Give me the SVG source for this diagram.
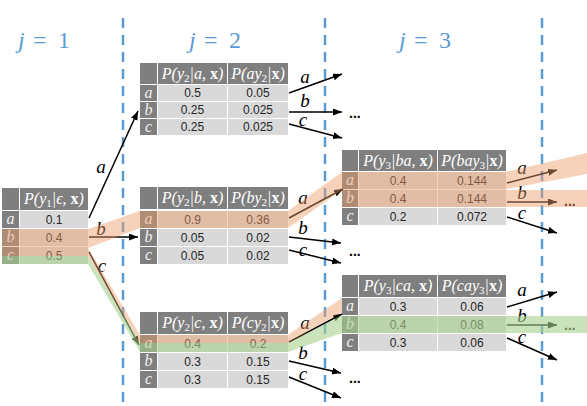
<svg xmlns="http://www.w3.org/2000/svg" width="587" height="406" viewBox="0 0 587 406">
<style>
.hd{fill:#7f7f7f}
.cl{fill:#d9d9d9}
.ht{font-family:"Liberation Serif",serif;font-style:italic;font-size:16px;fill:#ffffff;text-anchor:middle}
.ht .bx{font-style:normal;font-weight:bold}
.ht .sb{font-size:11px;font-style:normal}
.lt{font-family:"Liberation Serif",serif;font-style:italic;font-size:16px;fill:#f2f2f2;text-anchor:middle}
.vt{font-family:"Liberation Sans",Arial,sans-serif;font-size:12px;fill:#262626;text-anchor:middle}
.al{font-family:"Liberation Serif",serif;font-style:italic;font-size:19px;fill:#000000;text-anchor:middle}
.arr{stroke:#000000;stroke-width:1.5;fill:none;marker-end:url(#ah)}
.dots{font-family:"Liberation Sans",Arial,sans-serif;font-size:14px;font-weight:bold;fill:#000000}
.dl{stroke:#5b9bd5;stroke-width:2.5;stroke-dasharray:10 7}
.jt{font-family:"Liberation Serif",serif;font-size:24px;fill:#5b9bd5}
</style>
<defs>
<marker id="ah" markerWidth="10" markerHeight="8" refX="9" refY="3.5" orient="auto" markerUnits="userSpaceOnUse">
<path d="M0,0 L9,3.5 L0,7 z" fill="#000000"/>
</marker>
</defs>
<rect width="587" height="406" fill="#ffffff"/>

<g id="dividers">
<line class="dl" x1="123" y1="18" x2="123" y2="406"/>
<line class="dl" x1="325" y1="18" x2="325" y2="406"/>
<line class="dl" x1="542" y1="18" x2="542" y2="406"/>
</g>
<g id="steps">
<text class="jt" y="48"><tspan x="18" font-style="italic">j</tspan><tspan x="33">=</tspan><tspan x="58">1</tspan></text>
<text class="jt" y="48"><tspan x="189" font-style="italic">j</tspan><tspan x="204">=</tspan><tspan x="229">2</tspan></text>
<text class="jt" y="48"><tspan x="399" font-style="italic">j</tspan><tspan x="414">=</tspan><tspan x="439">3</tspan></text>
</g>

<!-- left table -->
<g id="n-eps">
<rect class="hd" x="2" y="188" width="17" height="22"/>
<rect class="hd" x="20" y="188" width="68" height="22"/>
<text class="ht" x="54" y="204">P(y<tspan class="sb" dy="3">1</tspan><tspan dy="-3">|ϵ, </tspan><tspan class="bx">x</tspan>)</text>
<rect class="hd" x="2" y="211" width="17" height="17"/><rect class="cl" x="20" y="211" width="68" height="17"/>
<rect class="hd" x="2" y="229" width="17" height="17"/><rect class="cl" x="20" y="229" width="68" height="17"/>
<rect class="hd" x="2" y="247" width="17" height="17"/><rect class="cl" x="20" y="247" width="68" height="17"/>
<text class="lt" x="10.5" y="224">a</text><text class="lt" x="10.5" y="242">b</text><text class="lt" x="10.5" y="260">c</text>
<text class="vt" x="54" y="224">0.1</text><text class="vt" x="54" y="242">0.4</text><text class="vt" x="54" y="260">0.5</text>
</g>

<!-- table a -->
<g id="n-a">
<rect class="hd" x="140" y="63" width="17" height="21"/>
<rect class="hd" x="158" y="63" width="69" height="21"/>
<rect class="hd" x="228" y="63" width="60" height="21"/>
<text class="ht" x="192.5" y="79">P(y<tspan class="sb" dy="3">2</tspan><tspan dy="-3">|a, </tspan><tspan class="bx">x</tspan>)</text>
<text class="ht" x="258" y="79">P(ay<tspan class="sb" dy="3">2</tspan><tspan dy="-3">|</tspan><tspan class="bx">x</tspan>)</text>
<rect class="hd" x="140" y="85" width="17" height="16"/><rect class="cl" x="158" y="85" width="69" height="16"/><rect class="cl" x="228" y="85" width="60" height="16"/>
<rect class="hd" x="140" y="102" width="17" height="16"/><rect class="cl" x="158" y="102" width="69" height="16"/><rect class="cl" x="228" y="102" width="60" height="16"/>
<rect class="hd" x="140" y="119" width="17" height="16"/><rect class="cl" x="158" y="119" width="69" height="16"/><rect class="cl" x="228" y="119" width="60" height="16"/>
<text class="lt" x="148.5" y="98">a</text><text class="lt" x="148.5" y="115">b</text><text class="lt" x="148.5" y="132">c</text>
<text class="vt" x="192.5" y="97">0.5</text><text class="vt" x="258" y="97">0.05</text>
<text class="vt" x="192.5" y="114">0.25</text><text class="vt" x="258" y="114">0.025</text>
<text class="vt" x="192.5" y="131">0.25</text><text class="vt" x="258" y="131">0.025</text>
</g>

<!-- table b -->
<g id="n-b">
<rect class="hd" x="140" y="187" width="17" height="22"/>
<rect class="hd" x="158" y="187" width="69" height="22"/>
<rect class="hd" x="228" y="187" width="60" height="22"/>
<text class="ht" x="192.5" y="203">P(y<tspan class="sb" dy="3">2</tspan><tspan dy="-3">|b, </tspan><tspan class="bx">x</tspan>)</text>
<text class="ht" x="258" y="203">P(by<tspan class="sb" dy="3">2</tspan><tspan dy="-3">|</tspan><tspan class="bx">x</tspan>)</text>
<rect class="hd" x="140" y="211" width="17" height="17"/><rect class="cl" x="158" y="211" width="69" height="17"/><rect class="cl" x="228" y="211" width="60" height="17"/>
<rect class="hd" x="140" y="229" width="17" height="17"/><rect class="cl" x="158" y="229" width="69" height="17"/><rect class="cl" x="228" y="229" width="60" height="17"/>
<rect class="hd" x="140" y="247" width="17" height="17"/><rect class="cl" x="158" y="247" width="69" height="17"/><rect class="cl" x="228" y="247" width="60" height="17"/>
<text class="lt" x="148.5" y="224">a</text><text class="lt" x="148.5" y="242">b</text><text class="lt" x="148.5" y="260">c</text>
<text class="vt" x="192.5" y="224">0.9</text><text class="vt" x="258" y="224">0.36</text>
<text class="vt" x="192.5" y="242">0.05</text><text class="vt" x="258" y="242">0.02</text>
<text class="vt" x="192.5" y="260">0.05</text><text class="vt" x="258" y="260">0.02</text>
</g>

<!-- table c -->
<g id="n-c">
<rect class="hd" x="140" y="312" width="17" height="22"/>
<rect class="hd" x="158" y="312" width="69" height="22"/>
<rect class="hd" x="228" y="312" width="60" height="22"/>
<text class="ht" x="192.5" y="328">P(y<tspan class="sb" dy="3">2</tspan><tspan dy="-3">|c, </tspan><tspan class="bx">x</tspan>)</text>
<text class="ht" x="258" y="328">P(cy<tspan class="sb" dy="3">2</tspan><tspan dy="-3">|</tspan><tspan class="bx">x</tspan>)</text>
<rect class="hd" x="140" y="335" width="17" height="17"/><rect class="cl" x="158" y="335" width="69" height="17"/><rect class="cl" x="228" y="335" width="60" height="17"/>
<rect class="hd" x="140" y="353" width="17" height="17"/><rect class="cl" x="158" y="353" width="69" height="17"/><rect class="cl" x="228" y="353" width="60" height="17"/>
<rect class="hd" x="140" y="371" width="17" height="17"/><rect class="cl" x="158" y="371" width="69" height="17"/><rect class="cl" x="228" y="371" width="60" height="17"/>
<text class="lt" x="148.5" y="348">a</text><text class="lt" x="148.5" y="366">b</text><text class="lt" x="148.5" y="384">c</text>
<text class="vt" x="192.5" y="348">0.4</text><text class="vt" x="258" y="348">0.2</text>
<text class="vt" x="192.5" y="366">0.3</text><text class="vt" x="258" y="366">0.15</text>
<text class="vt" x="192.5" y="384">0.3</text><text class="vt" x="258" y="384">0.15</text>
</g>

<!-- table ba -->
<g id="n-ba">
<rect class="hd" x="342" y="150" width="16" height="21"/>
<rect class="hd" x="359" y="150" width="78" height="21"/>
<rect class="hd" x="438" y="150" width="68" height="21"/>
<text class="ht" x="398" y="166">P(y<tspan class="sb" dy="3">3</tspan><tspan dy="-3">|ba, </tspan><tspan class="bx">x</tspan>)</text>
<text class="ht" x="472" y="166">P(bay<tspan class="sb" dy="3">3</tspan><tspan dy="-3">|</tspan><tspan class="bx">x</tspan>)</text>
<rect class="hd" x="342" y="172" width="16" height="17"/><rect class="cl" x="359" y="172" width="78" height="17"/><rect class="cl" x="438" y="172" width="68" height="17"/>
<rect class="hd" x="342" y="190" width="16" height="17"/><rect class="cl" x="359" y="190" width="78" height="17"/><rect class="cl" x="438" y="190" width="68" height="17"/>
<rect class="hd" x="342" y="208" width="16" height="17"/><rect class="cl" x="359" y="208" width="78" height="17"/><rect class="cl" x="438" y="208" width="68" height="17"/>
<text class="lt" x="350" y="185">a</text><text class="lt" x="350" y="203">b</text><text class="lt" x="350" y="221">c</text>
<text class="vt" x="398" y="185">0.4</text><text class="vt" x="472" y="185">0.144</text>
<text class="vt" x="398" y="203">0.4</text><text class="vt" x="472" y="203">0.144</text>
<text class="vt" x="398" y="221">0.2</text><text class="vt" x="472" y="221">0.072</text>
</g>

<!-- table ca -->
<g id="n-ca">
<rect class="hd" x="342" y="275" width="16" height="22"/>
<rect class="hd" x="359" y="275" width="78" height="22"/>
<rect class="hd" x="438" y="275" width="68" height="22"/>
<text class="ht" x="398" y="291">P(y<tspan class="sb" dy="3">3</tspan><tspan dy="-3">|ca, </tspan><tspan class="bx">x</tspan>)</text>
<text class="ht" x="472" y="291">P(cay<tspan class="sb" dy="3">3</tspan><tspan dy="-3">|</tspan><tspan class="bx">x</tspan>)</text>
<rect class="hd" x="342" y="298" width="16" height="17"/><rect class="cl" x="359" y="298" width="78" height="17"/><rect class="cl" x="438" y="298" width="68" height="17"/>
<rect class="hd" x="342" y="316" width="16" height="17"/><rect class="cl" x="359" y="316" width="78" height="17"/><rect class="cl" x="438" y="316" width="68" height="17"/>
<rect class="hd" x="342" y="334" width="16" height="17"/><rect class="cl" x="359" y="334" width="78" height="17"/><rect class="cl" x="438" y="334" width="68" height="17"/>
<text class="lt" x="350" y="311">a</text><text class="lt" x="350" y="329">b</text><text class="lt" x="350" y="347">c</text>
<text class="vt" x="398" y="311">0.3</text><text class="vt" x="472" y="311">0.06</text>
<text class="vt" x="398" y="329">0.4</text><text class="vt" x="472" y="329">0.08</text>
<text class="vt" x="398" y="347">0.3</text><text class="vt" x="472" y="347">0.06</text>
</g>

<g id="edges">
<line class="arr" x1="89" y1="218" x2="138" y2="111"/>
<line class="arr" x1="89" y1="237" x2="138" y2="237"/>
<line class="arr" x1="89" y1="252" x2="139" y2="345"/>
<text class="al" x="101" y="173">a</text>
<text class="al" x="101" y="235">b</text>
<text class="al" x="102" y="272">c</text>

<line class="arr" x1="289" y1="93" x2="342" y2="74"/>
<line class="arr" x1="289" y1="112" x2="342" y2="112"/>
<line class="arr" x1="289" y1="124" x2="342" y2="138"/>
<text class="al" x="305" y="83">a</text>
<text class="al" x="305" y="107">b</text>
<text class="al" x="303" y="126">c</text>

<line class="arr" x1="289" y1="218" x2="343" y2="189"/>
<line class="arr" x1="289" y1="237" x2="341" y2="243"/>
<line class="arr" x1="289" y1="250" x2="341" y2="263"/>
<text class="al" x="303" y="204">a</text>
<text class="al" x="303" y="234">b</text>
<text class="al" x="303" y="256">c</text>

<line class="arr" x1="289" y1="342" x2="342" y2="314"/>
<line class="arr" x1="289" y1="361" x2="341" y2="373"/>
<line class="arr" x1="289" y1="377" x2="341" y2="398"/>
<text class="al" x="305" y="329">a</text>
<text class="al" x="303" y="359">b</text>
<text class="al" x="303" y="380">c</text>

<line class="arr" x1="507" y1="183" x2="557" y2="170"/>
<line class="arr" x1="507" y1="202" x2="557" y2="202"/>
<line class="arr" x1="507" y1="217" x2="557" y2="233"/>
<text class="al" x="522" y="174">a</text>
<text class="al" x="522" y="199">b</text>
<text class="al" x="522" y="219">c</text>

<line class="arr" x1="507" y1="307" x2="557" y2="292"/>
<line class="arr" x1="507" y1="325" x2="557" y2="325"/>
<line class="arr" x1="507" y1="338" x2="557" y2="360"/>
<text class="al" x="522" y="296">a</text>
<text class="al" x="522" y="322">b</text>
<text class="al" x="522" y="343">c</text>

<text class="dots" x="349" y="118">...</text>
<text class="dots" x="349" y="256">...</text>
<text class="dots" x="349" y="383">...</text>
<text class="dots" x="564" y="206">...</text>
<text class="dots" x="564" y="330">...</text>
</g>

<g id="highlight-orange" fill="#ed9c6a" opacity="0.45">
<rect x="2" y="229" width="86" height="27"/>
<polygon points="88,229 140,211 140,228 88,248"/>
<polygon points="88,248 88,256 140,343 140,335"/>
<rect x="140" y="211" width="148" height="17"/>
<rect x="140" y="335" width="148" height="8"/>
<polygon points="288,211 342,172 342,190 288,228"/>
<rect x="342" y="172" width="164" height="35"/>
<polygon points="506,172 587,153 587,174 506,189"/>
<rect x="506" y="190" width="81" height="17"/>
<polygon points="288,335 342,298 342,312 288,343"/>
</g>
<g id="highlight-green" fill="#a9d18e" opacity="0.6">
<rect x="2" y="256" width="86" height="8"/>
<polygon points="88,256 88,264 140,352 140,343"/>
<rect x="140" y="343" width="148" height="9"/>
<polygon points="288,343 342,315 342,333 288,352"/>
<rect x="342" y="316" width="245" height="17"/>
</g>
</svg>
